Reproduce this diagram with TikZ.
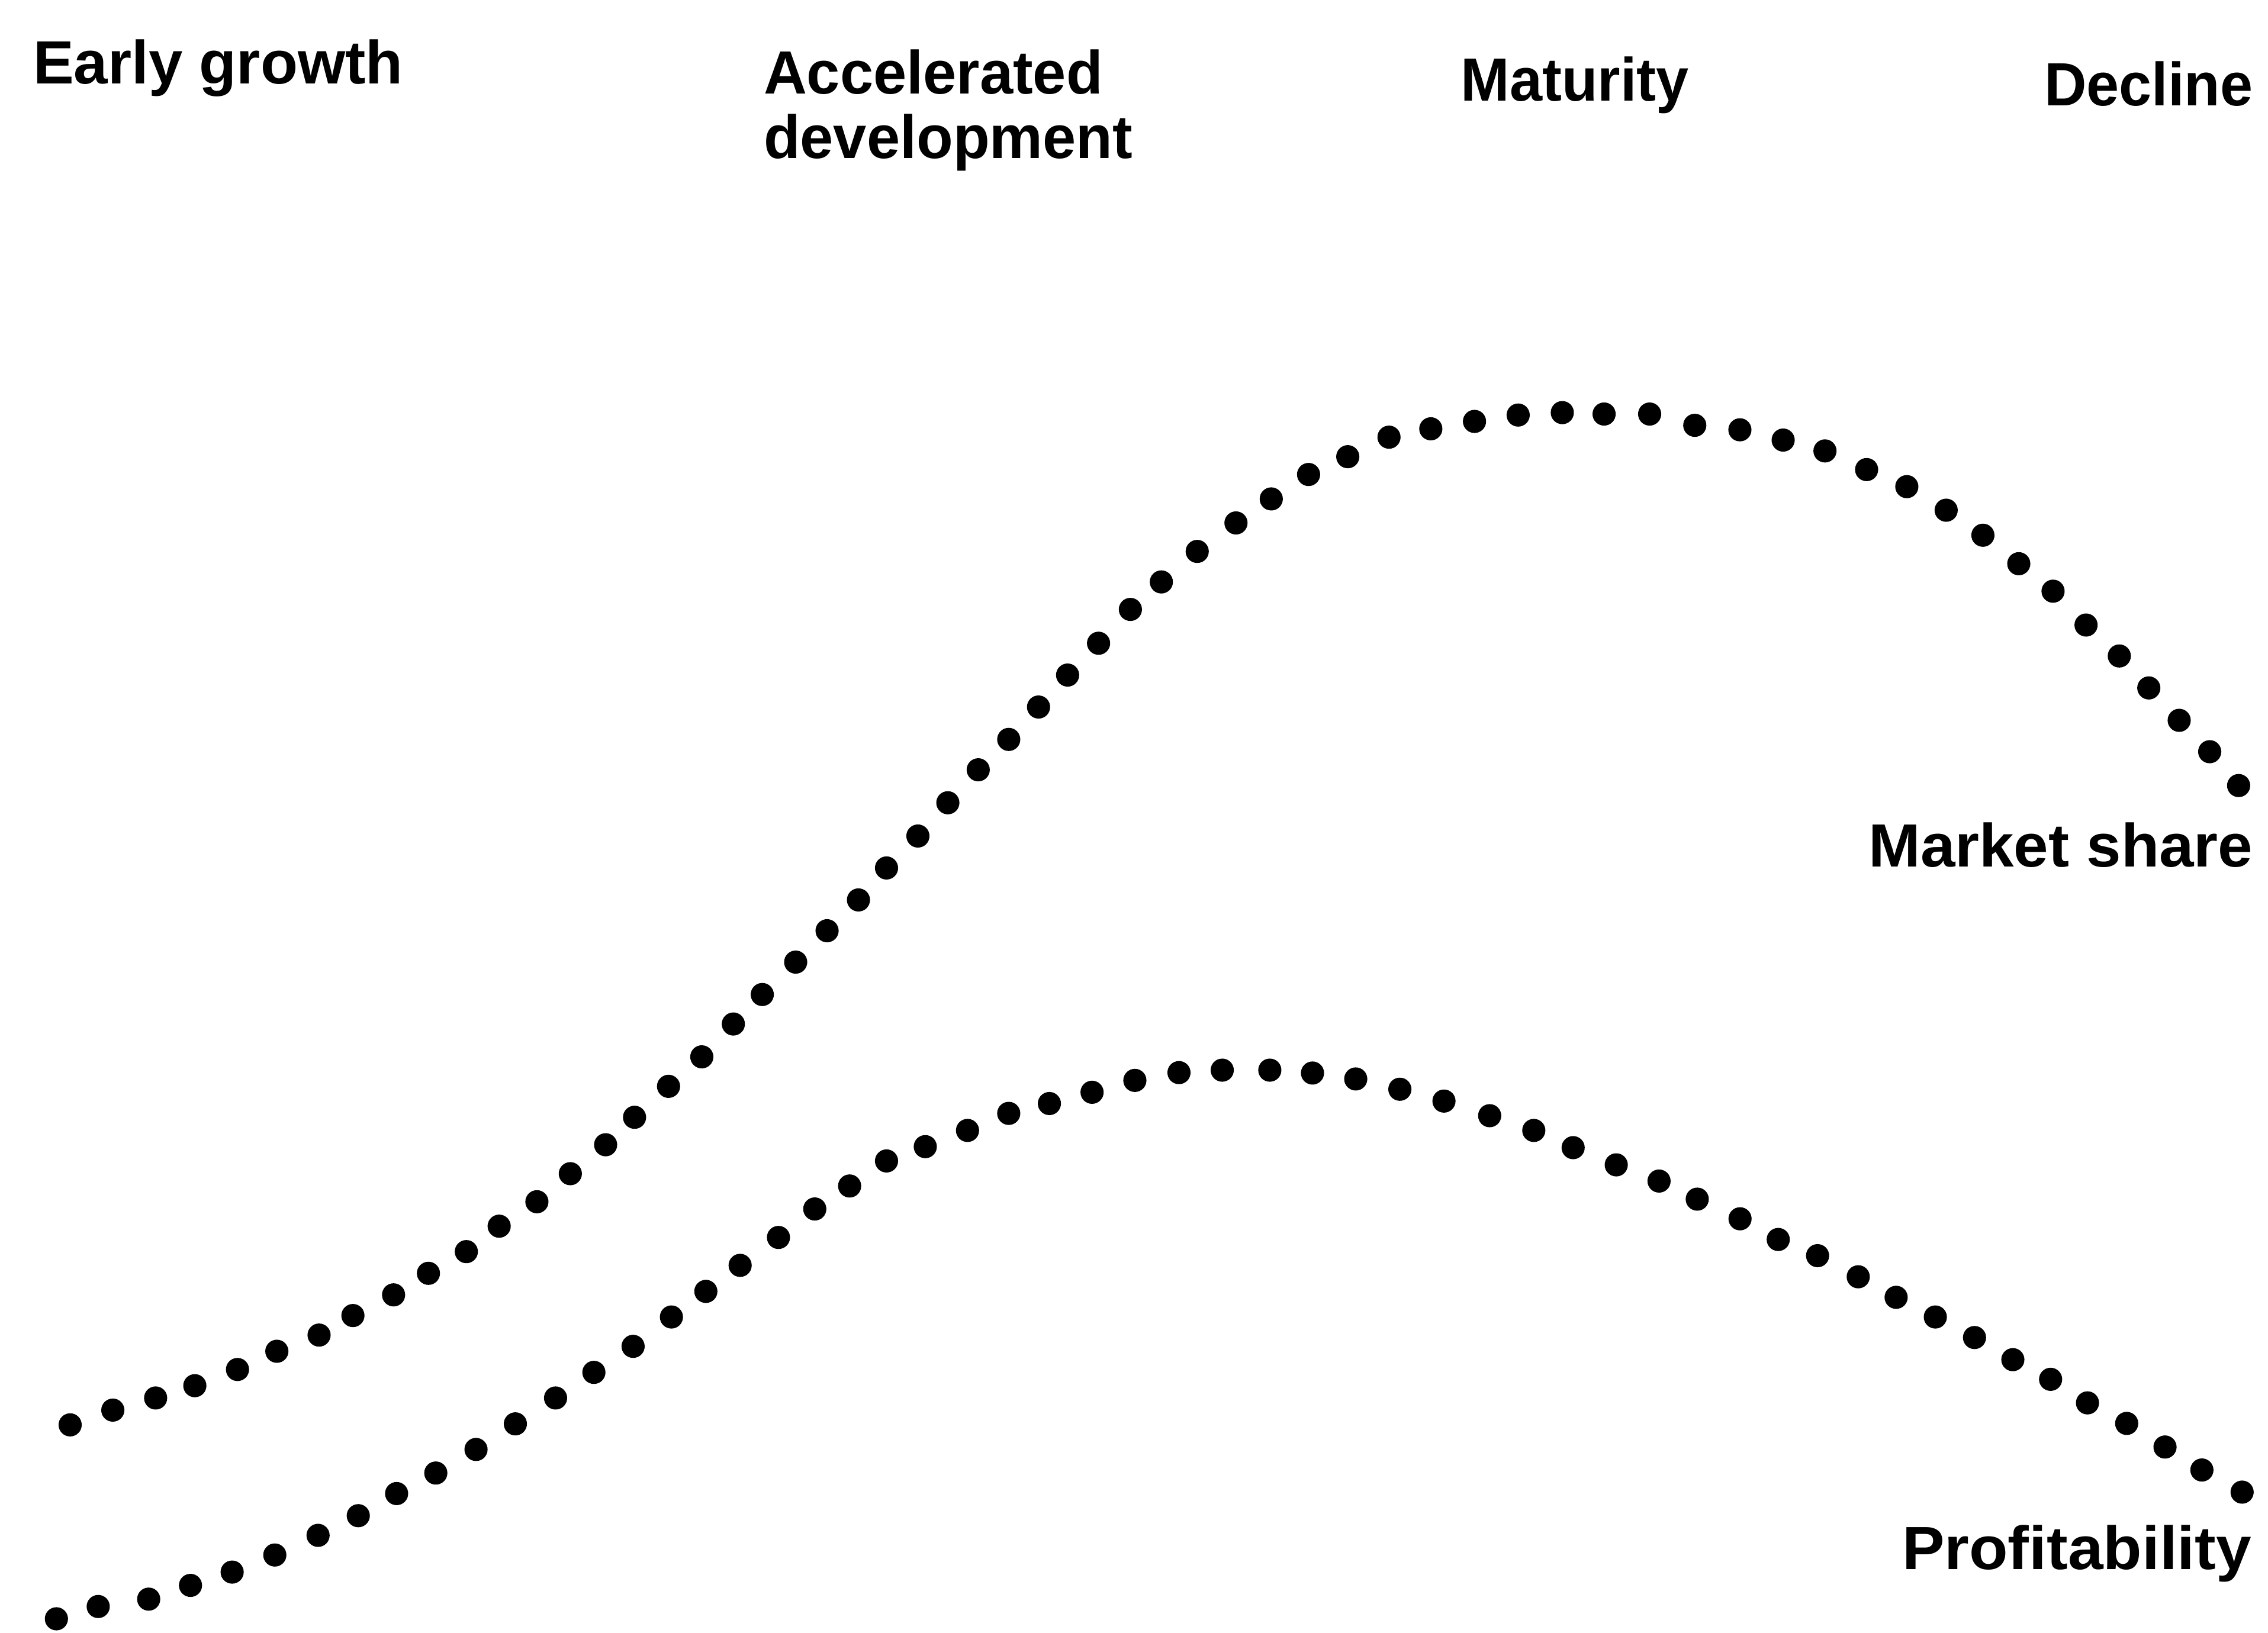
\documentclass[tikz,border=0pt]{standalone}
\usepackage{graphicx}
\usepackage{fontspec}
\setmainfont{Liberation Sans}
\begin{document}
\begin{tikzpicture}[x=0.01cm,y=-0.01cm,
  lab/.style={font=\bfseries\fontsize{12}{12.7}\selectfont, inner sep=0pt, outer sep=0pt},
  dotmark/.style={fill=black}]
\useasboundingbox[fill=white] (0,0) rectangle (1568,1129);
% stage labels
\node[lab, anchor=base west] (early) at (23,57.7) {Early growth};
\node[lab, anchor=north west, align=left] (accel) at (528,34.3) {\scalebox{0.98}[1]{Accelerated}\\\scalebox{0.98}[1]{development}};
\node[lab, anchor=base west] (maturity) at (1010,69.6) {\scalebox{0.96}[1]{Maturity}};
\node[lab, anchor=base east] (decline) at (1557.5,73) {\scalebox{0.96}[1]{Decline}};
% curve labels
\node[lab, anchor=base east] (market) at (1557.5,599.2) {\scalebox{1.02}[1]{Market share}};
\node[lab, anchor=base east] (profit) at (1556.5,1085.4) {\scalebox{1.04}[1]{Profitability}};
% market share curve
\foreach \x/\y in {48.5/985.3,78/975.1,107.6/966.7,134.7/958.2,164.2/947,191.4/934.4,220.6/923.2,244/909.7,272.1/895.4,296.2/880.5,322.4/865.5,345.1/847.9,371.2/831,394.3/811.6,418.7/791.6,438.7/772.6,462.2/751.2,485.2/730.8,507/708.1,527/687.7,550.1/665.3,571.8/643.6,593.5/622.3,612.9/600.2,634.6/578.1,655.3/555.1,676.3/532.3,697.4/511.3,718/488.9,738.1/466.8,759.5/444.8,781.5/421.4,802.9/402.4,827.7/381.3,854.5/361.6,878.9/345,904.7/328.1,931.8/315.8,960.3/302.3,989.2/296.5,1019.4/291.4,1049.6/287,1080.1/285.3,1109/286.3,1140.5/286.3,1171.7/294.1,1202.9/297.2,1232.8/304.3,1261.7/311.8,1290.5/324.7,1318.3/336.5,1345.5/352.8,1370.9/370.1,1395.7/389.8,1419.4/408.8,1442.2/432.2,1465.2/453.6,1485.6/475.7,1506.6/498.1,1527.7/519.8,1547.7/543.2}
  \fill[dotmark] (\x,\y) circle (0.8mm);
% profitability curve
\foreach \x/\y in {39/1119.4,67.9/1110.9,102.8/1105.8,131.7/1096.3,160.5/1087.1,190/1075.3,219.9/1061.7,247.7/1048.1,274.2/1032.8,301.3/1018.6,329.1/1002.3,356.3/984.6,384.1/966.7,410.6/949,437.7/931,464.2/910.7,488/893,511.7/875,538.2/855.7,563.3/836,587.4/820.1,612.9/802.8,639.7/792.9,668.9/781.7,697.4/769.9,725.5/763.1,755/755.3,784.6/747.1,815.1/741.7,845/740,877.9/740,907.4/742,937.3/746.1,967.8/753.2,998.3/761.4,1029.9/771.5,1060.4/781.7,1087.6/793.6,1117.4/805.5,1147/816.7,1173.4/829.2,1203/842.8,1229.4/857.1,1256.6/868.3,1284.7/882.9,1310.9/897.1,1338/910.7,1365.1/924.9,1391.6/940.2,1417.7/953.8,1443.2/970.1,1470.3/984.3,1496.8/1000.6,1522.3/1016.5,1550.1/1031.8}
  \fill[dotmark] (\x,\y) circle (0.8mm);
\end{tikzpicture}
\end{document}
